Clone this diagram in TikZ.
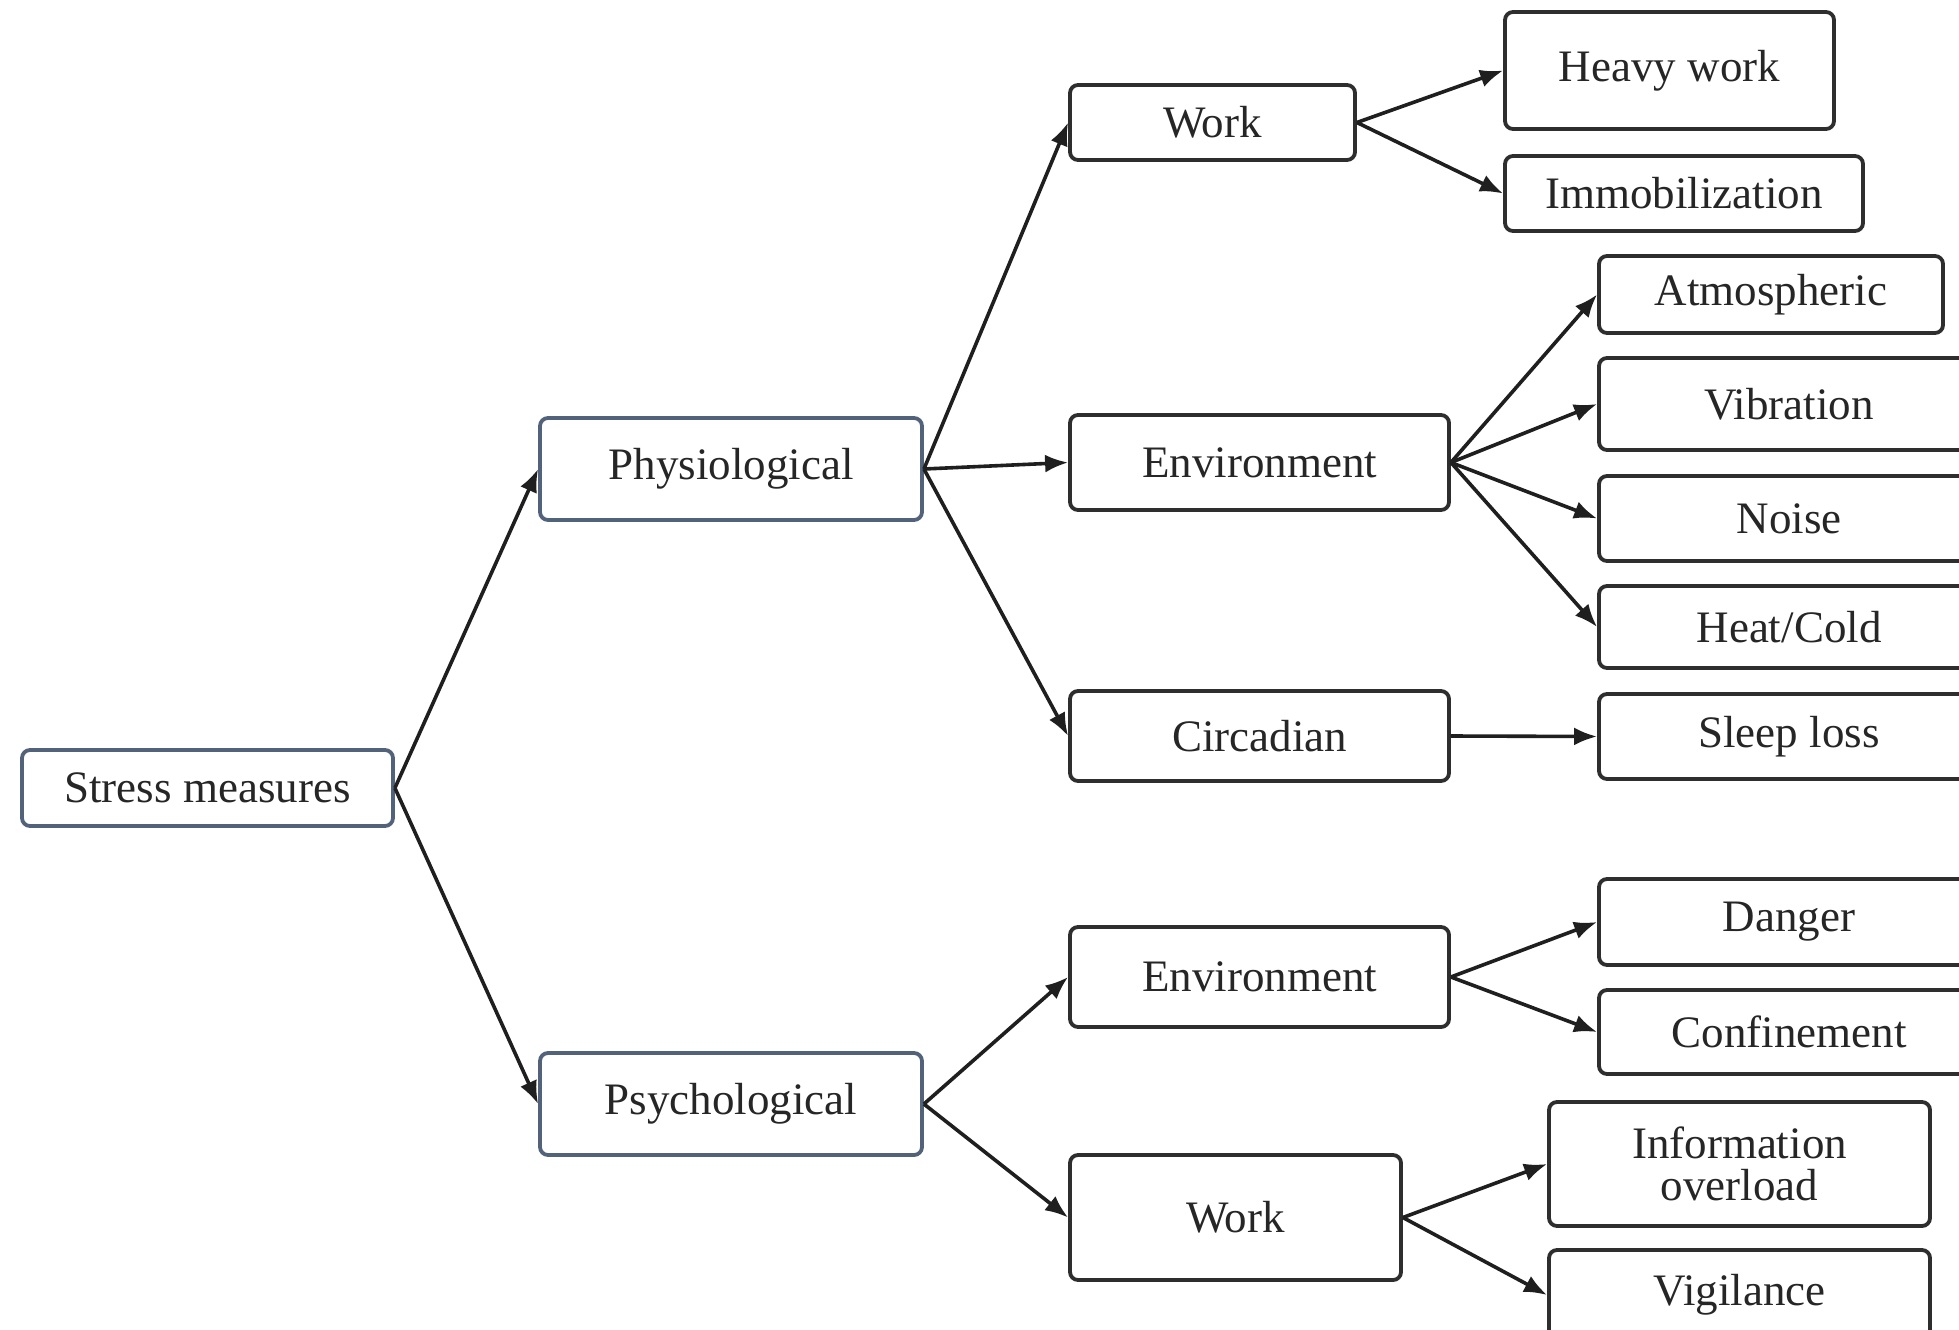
\documentclass[tikz,border=0pt]{standalone}
\usepackage{fontspec}
\setmainfont{Liberation Serif}
\usetikzlibrary{arrows.meta}
\definecolor{inkgray}{HTML}{262626}
\definecolor{slateedge}{HTML}{52627A}
\definecolor{darkedge}{HTML}{2E2E2E}
\begin{document}
\begin{tikzpicture}[x=1pt,y=-1pt,
  box/.style={draw=darkedge, line width=3.8pt, rounded corners=8pt, fill=white,
    inner sep=0pt, align=center, text=inkgray,
    font=\fontsize{45}{42}\selectfont},
  rootbox/.style={box, draw=slateedge},
  link/.style={draw=black!88, line width=3.6pt, -{Latex[length=23pt,width=18pt]}}]
\useasboundingbox (0,0) rectangle (1959,1330);
\clip (0,0) rectangle (1959,1330);

% first two levels
\node[rootbox, minimum width=371pt, minimum height=76pt] (sm) at (207.5,788) {Stress measures};
\node[rootbox, minimum width=382pt, minimum height=102pt] (phys) at (731,469) {Physiological};
\node[rootbox, minimum width=382pt, minimum height=102pt] (psych) at (731,1104) {Psychological};

% third level
\node[box, minimum width=285pt, minimum height=75pt] (work1) at (1212.5,122.5) {Work};
\node[box, minimum width=379pt, minimum height=95pt] (env1) at (1259.5,462.5) {Environment};
\node[box, minimum width=379pt, minimum height=90pt] (circ) at (1259.5,736) {Circadian};
\node[box, minimum width=379pt, minimum height=100pt] (env2) at (1259.5,977) {Environment};
\node[box, minimum width=331pt, minimum height=125pt] (work2) at (1235.5,1217.5) {Work};

% leaves
\node[box, minimum width=329pt, minimum height=117pt] (heavy) at (1669.5,70.5) {Heavy work};
\node[box, minimum width=358pt, minimum height=75pt] (immob) at (1684,193.5) {Immobilization};
\node[box, minimum width=344pt, minimum height=77pt] (atmo) at (1771,294.5) {Atmospheric};
\node[box, minimum width=380pt, minimum height=92pt] (vib) at (1789,404) {Vibration};
\node[box, minimum width=380pt, minimum height=85pt] (noise) at (1789,518.5) {Noise};
\node[box, minimum width=380pt, minimum height=82pt] (heat) at (1789,627) {Heat/Cold};
\node[box, minimum width=380pt, minimum height=85pt] (sleep) at (1789,736.5) {Sleep loss};
\node[box, minimum width=380pt, minimum height=86pt] (danger) at (1789,922) {Danger};
\node[box, minimum width=380pt, minimum height=84pt] (confine) at (1789,1032) {Confinement};
\node[box, minimum width=381pt, minimum height=124pt] (info) at (1739.5,1164) {Information\\overload};
\node[box, minimum width=381pt, minimum height=90pt] (vigil) at (1739.5,1295) {Vigilance};

% connectors
\draw[link] (sm.east) -- (phys.west);
\draw[link] (sm.east) -- (psych.west);
\draw[link] (phys.east) -- (work1.west);
\draw[link] (phys.east) -- (env1.west);
\draw[link] (phys.east) -- (circ.west);
\draw[link] (psych.east) -- (env2.west);
\draw[link] (psych.east) -- (work2.west);
\draw[link] (work1.east) -- (heavy.west);
\draw[link] (work1.east) -- (immob.west);
\draw[link] (env1.east) -- (atmo.west);
\draw[link] (env1.east) -- (vib.west);
\draw[link] (env1.east) -- (noise.west);
\draw[link] (env1.east) -- (heat.west);
\draw[link] (circ.east) -- (sleep.west);
\draw[link] (env2.east) -- (danger.west);
\draw[link] (env2.east) -- (confine.west);
\draw[link] (work2.east) -- (info.west);
\draw[link] (work2.east) -- (vigil.west);
\end{tikzpicture}
\end{document}
